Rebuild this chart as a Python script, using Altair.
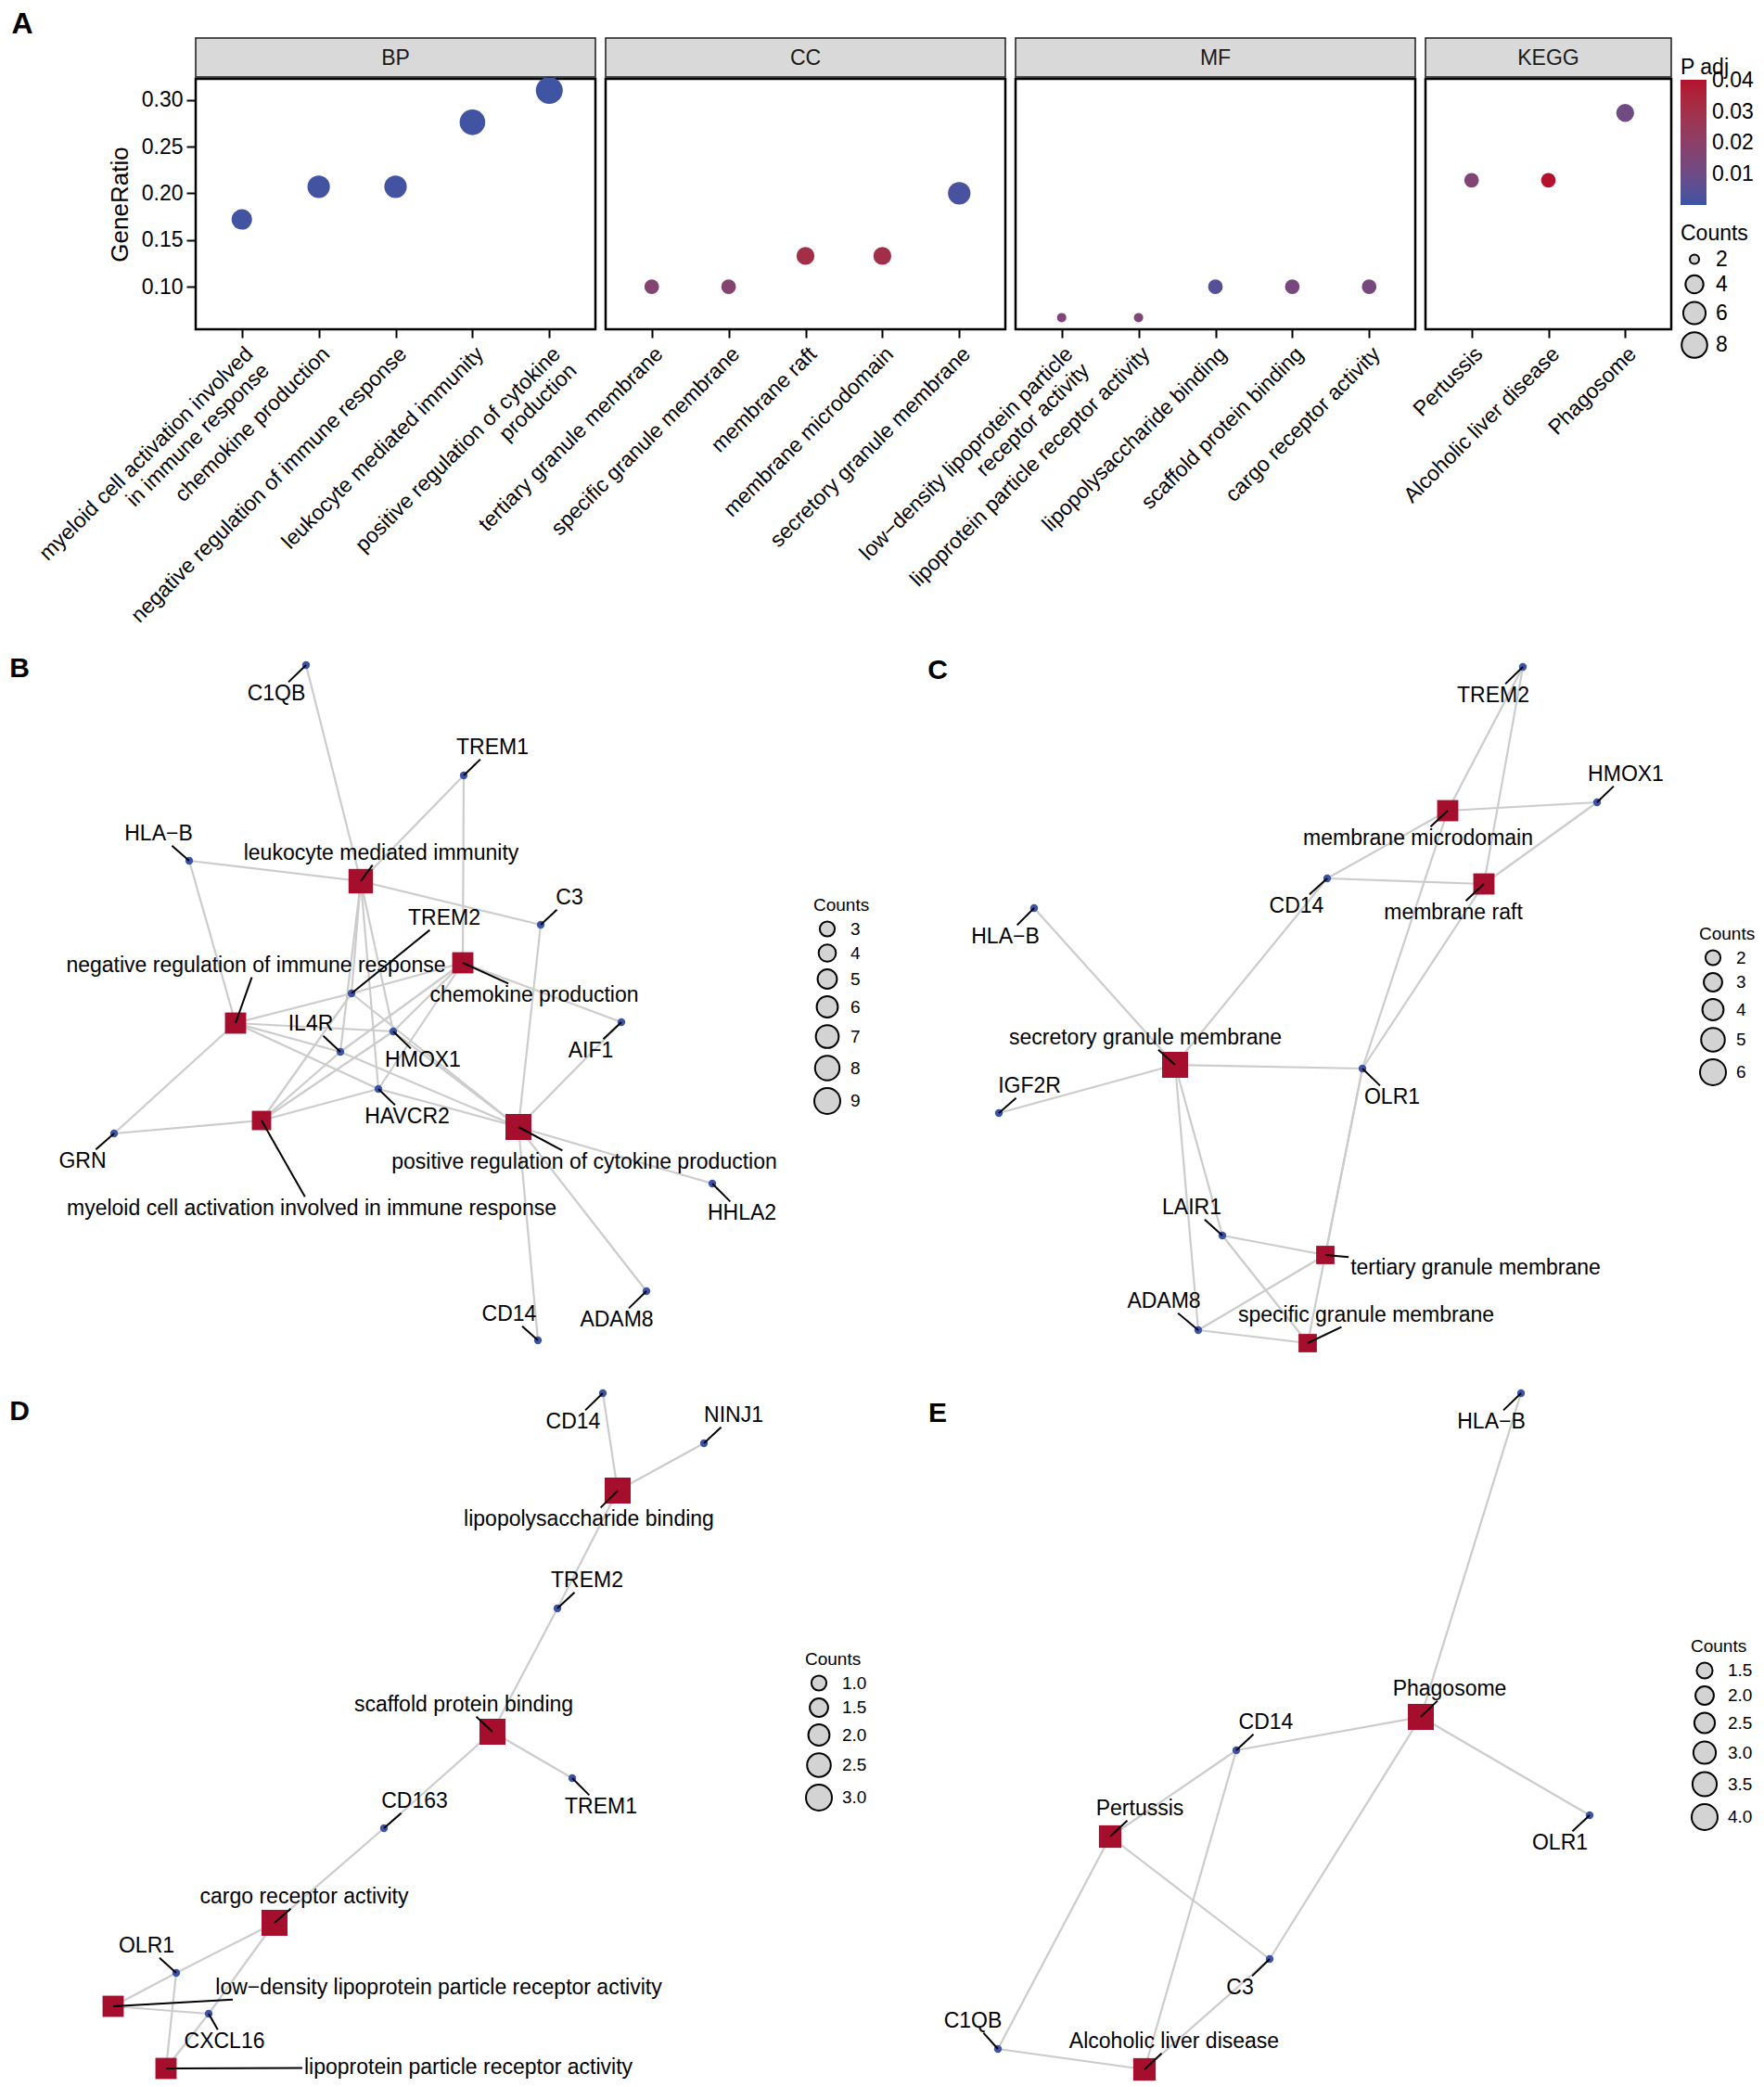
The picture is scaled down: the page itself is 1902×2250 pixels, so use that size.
import math
import altair as alt
import pandas as pd

FONT = "Liberation Sans"
BLUE = "#3B54A5"
RED = "#B5112D"
SQ_RED = "#A50F2D"
GENE_BLUE = "#3B54A5"
EDGE_GREY = "#CCCCCC"

# ---------------- Panel A : enrichment dot plot ----------------
bp_terms = ["myeloid cell activation involved\nin immune response", "chemokine production",
            "negative regulation of immune response", "leukocyte mediated immunity",
            "positive regulation of cytokine\nproduction"]
bp_ratio = [0.172, 0.207, 0.207, 0.276, 0.310]
bp_count = [5, 6, 6, 8, 9]
bp_padj = [0.0009, 0.0012, 0.0012, 0.0010, 0.0006]

cc_terms = ["tertiary granule membrane", "specific granule membrane", "membrane raft",
            "membrane microdomain", "secretory granule membrane"]
cc_ratio = [0.100, 0.100, 0.133, 0.133, 0.200]
cc_count = [3, 3, 4, 4, 6]
cc_padj = [0.017, 0.017, 0.031, 0.031, 0.002]

mf_terms = ["low\u2212density lipoprotein particle\nreceptor activity",
            "lipoprotein particle receptor activity", "lipopolysaccharide binding",
            "scaffold protein binding", "cargo receptor activity"]
mf_ratio = [0.067, 0.067, 0.100, 0.100, 0.100]
mf_count = [2, 2, 3, 3, 3]
mf_padj = [0.015, 0.015, 0.004, 0.013, 0.013]

kegg_terms = ["Pertussis", "Alcoholic liver disease", "Phagosome"]
kegg_ratio = [0.214, 0.214, 0.286]
kegg_count = [3, 3, 4]
kegg_padj = [0.016, 0.0403, 0.011]

y_ticks = [0.10, 0.15, 0.20, 0.25, 0.30]
padj_ticks = [0.01, 0.02, 0.03, 0.04]
count_ticks_a = [2, 4, 6, 8]

# ---------------- Panels B-E : gene-concept networks (layout coordinates) ----------------
b_nodes = ["C1QB", "TREM1", "HLA\u2212B", "leukocyte mediated immunity", "C3", "TREM2",
           "chemokine production", "negative regulation of immune response", "IL4R", "HMOX1",
           "AIF1", "HAVCR2", "myeloid cell activation involved in immune response", "GRN",
           "positive regulation of cytokine production", "HHLA2", "ADAM8", "CD14"]
b_x = [330, 500, 204, 389, 583, 379, 499, 254, 367, 424, 670, 408, 282, 123, 559, 768, 697, 580]
b_y = [717, 836, 928, 950, 997, 1071, 1038, 1103, 1134, 1112, 1102, 1174, 1208, 1222, 1215, 1276, 1392, 1445]
b_lx = [298, 531, 171, 411, 614, 479, 576, 276, 335, 456, 637, 439, 336, 89, 630, 800, 665, 549]
b_ly = [748, 806, 899, 920, 968, 990, 1073, 1041, 1104, 1143, 1133, 1204, 1303, 1252, 1253, 1308, 1423, 1417]
b_count = [0, 0, 0, 8, 0, 0, 6, 6, 0, 0, 0, 0, 5, 0, 9, 0, 0, 0]
b_edges = {
    "leukocyte mediated immunity": ["C1QB", "TREM1", "HLA\u2212B", "C3", "TREM2", "IL4R", "HMOX1", "HAVCR2"],
    "chemokine production": ["TREM1", "TREM2", "AIF1", "IL4R", "HAVCR2", "HMOX1"],
    "negative regulation of immune response": ["HLA\u2212B", "GRN", "TREM2", "HMOX1", "IL4R", "HAVCR2"],
    "myeloid cell activation involved in immune response": ["GRN", "TREM2", "IL4R", "HMOX1", "HAVCR2"],
    "positive regulation of cytokine production": ["C3", "AIF1", "HHLA2", "ADAM8", "CD14", "TREM2",
                                                   "HMOX1", "IL4R", "HAVCR2"],
}
b_legend_vals = [3, 4, 5, 6, 7, 8, 9]

c_nodes = ["TREM2", "HMOX1", "membrane microdomain", "CD14", "membrane raft", "HLA\u2212B",
           "secretory granule membrane", "OLR1", "IGF2R", "LAIR1", "tertiary granule membrane",
           "ADAM8", "specific granule membrane"]
c_x = [1642, 1722, 1561, 1431, 1600, 1115, 1267, 1469, 1077, 1318, 1429, 1292, 1410]
c_y = [719, 865, 874, 947, 953, 979, 1148, 1152, 1200, 1332, 1353, 1434, 1448]
c_lx = [1610, 1753, 1529, 1398, 1567, 1084, 1235, 1501, 1110, 1285, 1591, 1255, 1473]
c_ly = [750, 835, 904, 977, 984, 1010, 1119, 1183, 1171, 1302, 1367, 1403, 1418]
c_count = [0, 0, 4, 0, 4, 0, 6, 0, 0, 0, 3, 0, 3]
c_edges = {
    "membrane microdomain": ["TREM2", "HMOX1", "CD14", "OLR1"],
    "membrane raft": ["TREM2", "HMOX1", "CD14", "OLR1"],
    "secretory granule membrane": ["CD14", "HLA\u2212B", "IGF2R", "OLR1", "LAIR1", "ADAM8"],
    "tertiary granule membrane": ["OLR1", "LAIR1", "ADAM8"],
    "specific granule membrane": ["OLR1", "LAIR1", "ADAM8"],
}
c_legend_vals = [2, 3, 4, 5, 6]

d_nodes = ["CD14", "NINJ1", "lipopolysaccharide binding", "TREM2", "scaffold protein binding",
           "TREM1", "CD163", "cargo receptor activity", "OLR1",
           "low\u2212density lipoprotein particle receptor activity", "CXCL16",
           "lipoprotein particle receptor activity"]
d_x = [650, 759, 666, 601, 531, 617, 414, 296, 190, 122, 225, 179]
d_y = [1502, 1556, 1607, 1734, 1867, 1917, 1971, 2073, 2127, 2163, 2171, 2230]
d_lx = [618, 791, 635, 633, 500, 648, 447, 328, 158, 473, 242, 505]
d_ly = [1533, 1526, 1638, 1704, 1838, 1948, 1942, 2045, 2098, 2143, 2201, 2229]
d_count = [0, 0, 3, 0, 3, 0, 0, 3, 0, 2, 0, 2]
d_edges = {
    "lipopolysaccharide binding": ["CD14", "NINJ1", "TREM2"],
    "scaffold protein binding": ["TREM2", "TREM1", "CD163"],
    "cargo receptor activity": ["CD163", "OLR1", "CXCL16"],
    "low\u2212density lipoprotein particle receptor activity": ["OLR1", "CXCL16"],
    "lipoprotein particle receptor activity": ["OLR1", "CXCL16"],
}
d_legend_vals = [1.0, 1.5, 2.0, 2.5, 3.0]

e_nodes = ["HLA\u2212B", "Phagosome", "CD14", "Pertussis", "OLR1", "C3", "C1QB", "Alcoholic liver disease"]
e_x = [1640, 1532, 1333, 1197, 1714, 1369, 1076, 1234]
e_y = [1502, 1851, 1887, 1980, 1957, 2112, 2209, 2231]
e_lx = [1608, 1563, 1365, 1229, 1682, 1337, 1049, 1266]
e_ly = [1533, 1821, 1857, 1950, 1987, 2143, 2179, 2201]
e_count = [0, 4, 0, 3, 0, 0, 0, 3]
e_edges = {
    "Phagosome": ["HLA\u2212B", "CD14", "OLR1", "C3"],
    "Pertussis": ["CD14", "C3", "C1QB"],
    "Alcoholic liver disease": ["CD14", "C1QB", "C3"],
}
e_legend_vals = [1.5, 2.0, 2.5, 3.0, 3.5, 4.0]

panel_letters = ["B", "C", "D", "E"]
letter_x = [21, 1011, 21, 1011]
letter_y = [721, 723, 1522, 1524]

# ---------------- helpers ----------------
_W = {' ': .278, 'a': .556, 'b': .556, 'c': .5, 'd': .556, 'e': .556, 'f': .278, 'g': .556, 'h': .556,
      'i': .222, 'j': .222, 'k': .5, 'l': .222, 'm': .833, 'n': .556, 'o': .556, 'p': .556, 'q': .556,
      'r': .333, 's': .5, 't': .278, 'u': .556, 'v': .5, 'w': .722, 'x': .5, 'y': .5, 'z': .5,
      'A': .667, 'B': .667, 'C': .722, 'D': .722, 'E': .667, 'F': .611, 'G': .778, 'H': .722, 'I': .278,
      'J': .5, 'K': .667, 'L': .556, 'M': .833, 'N': .722, 'O': .778, 'P': .667, 'Q': .778, 'R': .722,
      'S': .667, 'T': .611, 'U': .722, 'V': .667, 'W': .944, 'X': .667, 'Y': .667, 'Z': .611,
      '\u2212': .584, '-': .333}
NET_FS = 23


def text_w(s, fs):
    return sum(_W.get(ch, .556) for ch in s) * fs


def build_panel(tag, nodes, xs, ys, lxs, lys, counts, edges):
    pos = {n: (x, y) for n, x, y in zip(nodes, xs, ys)}
    node_df = pd.DataFrame({"panel": tag, "name": nodes, "x": xs, "y": ys, "lx": lxs, "ly": lys,
                            "count": counts})
    node_df["kind"] = ["category" if c > 0 else "gene" for c in counts]
    erows = []
    for cat, genes in edges.items():
        for g in genes:
            erows.append({"panel": tag, "x": pos[cat][0], "y": pos[cat][1],
                          "x2": pos[g][0], "y2": pos[g][1]})
    srows = []
    for n, x, y, lx, ly in zip(nodes, xs, ys, lxs, lys):
        hw = text_w(n, NET_FS) / 2 + 2
        hh = NET_FS * 0.55
        dx, dy = x - lx, y - ly
        if abs(dx) <= hw and abs(dy) <= hh:
            continue
        s = min(hw / abs(dx) if dx else 1e9, hh / abs(dy) if dy else 1e9)
        ex, ey = lx + s * dx, ly + s * dy
        if math.hypot(x - ex, y - ey) < 4:
            continue
        srows.append({"panel": tag, "x": x, "y": y, "x2": ex, "y2": ey})
    return node_df, pd.DataFrame(erows), pd.DataFrame(srows)


# ---------------- Panel A charts ----------------
Y_DOMAIN = [0.0545, 0.3225]
STEP_W = 82.9
PLOT_H = 270
IND = dict(x="independent", y="independent", color="independent", size="independent")


def facet_unit(name, terms, ratio, count, padj, first=False, last=False):
    width = round(STEP_W * (len(terms) + 0.2))
    df = pd.DataFrame({"term": terms, "ratio": ratio, "count": count, "padj": padj})
    sdf = pd.DataFrame({"facet": [name]})

    if first:
        yaxis = alt.Axis(values=y_ticks, format=".2f", title="GeneRatio", titleFontSize=26,
                         titleFontWeight="normal", titleColor="black", titlePadding=10,
                         labelFontSize=23, labelColor="black", tickColor="black", tickWidth=2,
                         tickSize=10, domain=False, grid=False, labelPadding=4)
    else:
        yaxis = None
    if last:
        color_leg = alt.Legend(title="P adj", orient="none", legendX=275, legendY=-23,
                               direction="vertical", gradientLength=135, gradientThickness=28,
                               values=padj_ticks, format=".2f", labelFontSize=23, titleFontSize=23,
                               titleFontWeight="normal", titleColor="black", labelColor="black",
                               titlePadding=1, labelOffset=6, gradientStrokeWidth=0)
        size_leg = alt.Legend(title="Counts", orient="none", legendX=275, legendY=156,
                              values=count_ticks_a, symbolFillColor="#D3D3D3", symbolStrokeColor="black",
                              symbolStrokeWidth=2, symbolOpacity=1, symbolType="circle",
                              labelFontSize=23, titleFontSize=23, titleFontWeight="normal",
                              titleColor="black", labelColor="black", titlePadding=4, labelOffset=8,
                              rowPadding=0)
    else:
        color_leg = None
        size_leg = None

    pts = alt.Chart(df).mark_circle(opacity=1).encode(
        x=alt.X("term:N", sort=terms, title=None,
                scale=alt.Scale(type="point", padding=0.6),
                axis=alt.Axis(labelAngle=-45, labelAlign="right", labelBaseline="top",
                              labelFontSize=23, labelColor="black", tickColor="black", tickWidth=2,
                              tickSize=9, domain=False, grid=False, labelOverlap=False,
                              labelLimit=2000, labelLineHeight=25, labelPadding=6,
                              labelExpr="split(datum.label, '\\n')")),
        y=alt.Y("ratio:Q", title="GeneRatio" if first else None,
                scale=alt.Scale(domain=Y_DOMAIN, nice=False, zero=False), axis=yaxis),
        color=alt.Color("padj:Q", scale=alt.Scale(domain=[0, 0.0403], range=[BLUE, RED],
                                                  interpolate="lab", nice=False, zero=False),
                        legend=color_leg),
        size=alt.Size("count:Q", scale=alt.Scale(type="sqrt", domain=[2, 9], range=[100, 841], zero=False),
                      legend=size_leg),
    )
    strip_rect = alt.Chart(sdf).mark_rect(fill="#D9D9D9", stroke="#1A1A1A", strokeWidth=1.5).encode(
        x=alt.value(0), x2=alt.value(width), y=alt.value(-44), y2=alt.value(-2))
    strip_text = alt.Chart(sdf).mark_text(fontSize=23, color="#1A1A1A").encode(
        x=alt.value(width / 2), y=alt.value(-22), text="facet:N")
    return alt.layer(pts, strip_rect, strip_text).properties(
        width=width, height=PLOT_H, view=alt.ViewBackground(stroke="black", strokeWidth=2.5))


letter_a = pd.DataFrame({"t": ["A"]})
spacer = alt.layer(
    alt.Chart(letter_a).mark_rect(fill="white", opacity=1).encode(
        x=alt.value(0), x2=alt.value(4), y=alt.value(-77), y2=alt.value(-70)),
    alt.Chart(letter_a).mark_text(fontSize=32, fontWeight="bold", color="black").encode(
        x=alt.value(16), y=alt.value(-59), text="t:N"),
).properties(width=192, height=PLOT_H)

rowA = alt.hconcat(
    spacer,
    facet_unit("BP", bp_terms, bp_ratio, bp_count, bp_padj, first=True),
    facet_unit("CC", cc_terms, cc_ratio, cc_count, cc_padj),
    facet_unit("MF", mf_terms, mf_ratio, mf_count, mf_padj),
    facet_unit("KEGG", kegg_terms, kegg_ratio, kegg_count, kegg_padj, last=True),
    spacing=11, bounds="flush",
).resolve_scale(**IND)

# ---------------- Network charts ----------------
panels = [
    ("B", b_nodes, b_x, b_y, b_lx, b_ly, b_count, b_edges, b_legend_vals, "d", 869, 287),
    ("C", c_nodes, c_x, c_y, c_lx, c_ly, c_count, c_edges, c_legend_vals, "d", 1824, 318),
    ("D", d_nodes, d_x, d_y, d_lx, d_ly, d_count, d_edges, d_legend_vals, ".1f", 860, 1100),
    ("E", e_nodes, e_x, e_y, e_lx, e_ly, e_count, e_edges, e_legend_vals, ".1f", 1815, 1086),
]

NET_X0, NET_X1, NET_Y0, NET_Y1 = 8, 1894, 680, 2242
XS = alt.Scale(domain=[NET_X0, NET_X1], nice=False, zero=False)
YS = alt.Scale(domain=[NET_Y0, NET_Y1], nice=False, zero=False, reverse=True)

all_nodes, all_edges, all_segs = [], [], []
square_layers = []
for tag, nodes, xs, ys, lxs, lys, counts, edges, lvals, fmt, lgx, lgy in panels:
    ndf, edf, sdf = build_panel(tag, nodes, xs, ys, lxs, lys, counts, edges)
    all_nodes.append(ndf)
    all_edges.append(edf)
    all_segs.append(sdf)
    cats = ndf[ndf["count"] > 0]
    maxc = max(lvals)
    square_layers.append(
        alt.Chart(cats).mark_square(opacity=1).encode(
            x=alt.X("x:Q", scale=XS, axis=None),
            y=alt.Y("y:Q", scale=YS, axis=None),
            color=alt.Color("kind:N", scale=alt.Scale(domain=["category"], range=[SQ_RED]), legend=None),
            size=alt.Size("count:Q", scale=alt.Scale(domain=[0, maxc], range=[0, 784]),
                          legend=alt.Legend(title="Counts", orient="none", legendX=lgx, legendY=lgy,
                                            values=lvals, format=fmt, symbolType="circle",
                                            symbolFillColor="#D3D3D3", symbolStrokeColor="black",
                                            symbolStrokeWidth=2, symbolOpacity=1,
                                            labelFontSize=19, titleFontSize=19,
                                            titleFontWeight="normal", titleColor="black",
                                            labelColor="black", titlePadding=6, labelOffset=10,
                                            rowPadding=0)),
        )
    )

nodes_df = pd.concat(all_nodes, ignore_index=True)
edges_df = pd.concat(all_edges, ignore_index=True)
segs_df = pd.concat(all_segs, ignore_index=True)
genes_df = nodes_df[nodes_df["count"] == 0]
letters_df = pd.DataFrame({"t": panel_letters, "x": letter_x, "y": letter_y})

edge_layer = alt.Chart(edges_df).mark_rule(color=EDGE_GREY, strokeWidth=2.2).encode(
    x=alt.X("x:Q", scale=XS, axis=None), y=alt.Y("y:Q", scale=YS, axis=None),
    x2="x2:Q", y2="y2:Q")
gene_layer = alt.Chart(genes_df).mark_circle(color=GENE_BLUE, opacity=1, size=70).encode(
    x=alt.X("x:Q", scale=XS, axis=None), y=alt.Y("y:Q", scale=YS, axis=None))
seg_layer = alt.Chart(segs_df).mark_rule(color="black", strokeWidth=2).encode(
    x=alt.X("x:Q", scale=XS, axis=None), y=alt.Y("y:Q", scale=YS, axis=None),
    x2="x2:Q", y2="y2:Q")
label_layer = alt.Chart(nodes_df).mark_text(fontSize=NET_FS, color="black").encode(
    x=alt.X("lx:Q", scale=XS, axis=None), y=alt.Y("ly:Q", scale=YS, axis=None), text="name:N")
letter_layer = alt.Chart(letters_df).mark_text(fontSize=30, fontWeight="bold", color="black").encode(
    x=alt.X("x:Q", scale=XS, axis=None), y=alt.Y("y:Q", scale=YS, axis=None), text="t:N")

net = alt.layer(edge_layer, *square_layers, gene_layer, seg_layer, label_layer, letter_layer).resolve_scale(
    size="independent").resolve_legend(size="independent").properties(
    width=NET_X1 - NET_X0, height=NET_Y1 - NET_Y0)

chart = alt.vconcat(rowA, net, spacing=3).resolve_scale(**IND).properties(
    padding=0).configure(font=FONT).configure_view(strokeWidth=0)

chart.save("out.html", embed_options={"renderer": "svg", "actions": False})
